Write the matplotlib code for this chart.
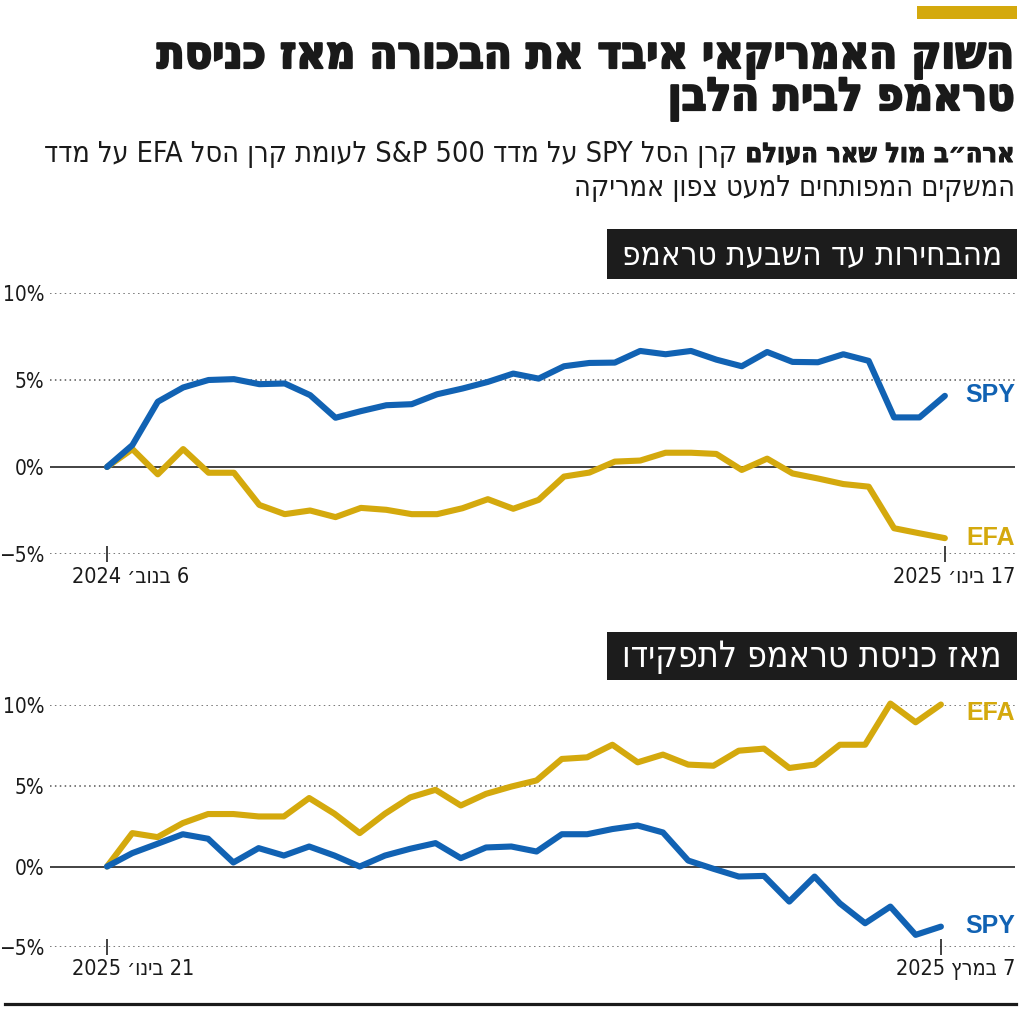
import re
import matplotlib
matplotlib.use('Agg')
import matplotlib.pyplot as plt
import matplotlib.patheffects as pe
from matplotlib.patches import Rectangle
from matplotlib.lines import Line2D

# ---------------- data ----------------
days = list(range(34))
spy_1 = [0, 1.26, 3.75, 4.57, 5.0, 5.05, 4.76, 4.8, 4.13, 2.83, 3.21, 3.55, 3.61, 4.18,
         4.51, 4.89, 5.37, 5.08, 5.79, 5.98, 6.0, 6.67, 6.48, 6.67, 6.17, 5.79, 6.61, 6.04,
         6.02, 6.48, 6.1, 2.85, 2.85, 4.09]
efa_1 = [0, 1.03, -0.42, 1.03, -0.33, -0.33, -2.18, -2.71, -2.5, -2.88, -2.35, -2.46, -2.71,
         -2.71, -2.37, -1.85, -2.4, -1.89, -0.55, -0.32, 0.31, 0.37, 0.82, 0.82, 0.75, -0.17,
         0.48, -0.37, -0.66, -0.98, -1.13, -3.52, -3.81, -4.09]
spy_2 = [0, 0.83, 1.41, 2.0, 1.72, 0.25, 1.14, 0.68, 1.24, 0.68, 0.0, 0.68, 1.1, 1.45, 0.52,
         1.18, 1.24, 0.93, 2.0, 2.0, 2.32, 2.54, 2.11, 0.37, -0.14, -0.62, -0.58, -2.17, -0.62,
         -2.28, -3.51, -2.48, -4.23, -3.72]
efa_2 = [0, 2.07, 1.82, 2.69, 3.25, 3.25, 3.1, 3.1, 4.24, 3.27, 2.07, 3.27, 4.28, 4.75, 3.78,
         4.5, 4.95, 5.33, 6.66, 6.76, 7.54, 6.45, 6.93, 6.31, 6.24, 7.17, 7.3, 6.1, 6.31, 7.54,
         7.54, 10.09, 8.93, 10.03]
y_ticks = [-5, 0, 5, 10]
y_labels = ['−5%', '0%', '5%', '10%']
dates_1 = ['6 בנוב׳ 2024', '17 בינו׳ 2025']
dates_2 = ['21 בינו׳ 2025', '7 במרץ 2025']

title_1 = 'השוק האמריקאי איבד את הבכורה מאז כניסת'
title_2 = 'טראמפ לבית הלבן'
sub_bold = 'ארה״ב מול שאר העולם'
sub_reg = 'קרן הסל SPY על מדד S&P 500 לעומת קרן הסל EFA על מדד'
sub_2 = 'המשקים המפותחים למעט צפון אמריקה'
head_1 = 'מהבחירות עד השבעת טראמפ'
head_2 = 'מאז כניסת טראמפ לתפקידו'

BLUE = '#1162b3'
GOLD = '#d4a90d'
DARK = '#1a1a1a'
FAM = ['DejaVu Sans']


def rtl(s):
    """Visual (left-to-right) order for an RTL line, keeping LTR runs intact."""
    groups = []
    for w in s.split(' '):
        if re.search(r'[A-Za-z0-9]', w):
            if groups and groups[-1][0] == 'L':
                groups[-1][1].append(w)
            else:
                groups.append(['L', [w]])
        else:
            groups.append(['R', [w]])
    parts = []
    for kind, ws in reversed(groups):
        parts.append(' '.join(ws) if kind == 'L' else ws[0][::-1])
    return ' '.join(parts)


W, H = 1024, 1010
fig = plt.figure(figsize=(W / 100, H / 100), dpi=100)
fig.patch.set_facecolor('white')
renderer = fig.canvas.get_renderer()


def fx(px):
    return px / W


def fy(py):
    return 1 - py / H


def fit(t, target):
    for _ in range(4):
        w = t.get_window_extent(renderer).width
        t.set_fontsize(t.get_fontsize() * target / w)


heavy = [pe.withStroke(linewidth=1.6, foreground=DARK)]
semi = [pe.withStroke(linewidth=0.8, foreground=DARK)]

# gold bar
fig.add_artist(Rectangle((fx(917), fy(19)), fx(100), 13 / H, transform=fig.transFigure,
                         facecolor=GOLD, edgecolor='none'))

# title
t1 = fig.text(fx(1015), fy(68), rtl(title_1), ha='right', va='baseline', family=FAM,
              fontweight='heavy', fontstretch='condensed', fontsize=30, color=DARK,
              path_effects=heavy)
fit(t1, 857)
t2 = fig.text(fx(1015), fy(110), rtl(title_2), ha='right', va='baseline', family=FAM,
              fontweight='heavy', fontstretch='condensed', fontsize=t1.get_fontsize(), color=DARK,
              path_effects=heavy)

# subtitle
sb = fig.text(fx(1015), fy(162), rtl(sub_bold), ha='right', va='baseline', family=FAM,
              fontweight='bold', fontstretch='condensed', fontsize=20, color=DARK,
              path_effects=semi)
fit(sb, 268)
bx0 = sb.get_window_extent(renderer).x0
sr = fig.text((bx0 - 8) / W, fy(162), rtl(sub_reg), ha='right', va='baseline', family=FAM,
              fontstretch='condensed', fontsize=18, color=DARK)
fit(sr, bx0 - 8 - 45)
s2 = fig.text(fx(1015), fy(196), rtl(sub_2), ha='right', va='baseline', family=FAM,
              fontstretch='condensed', fontsize=sr.get_fontsize(), color=DARK)


def header(text, top, bottom):
    fig.add_artist(Rectangle((fx(607), fy(bottom)), fx(410), (bottom - top) / H,
                             transform=fig.transFigure, facecolor='#1c1c1c', edgecolor='none'))
    ht = fig.text(fx(812), fy((top + bottom) / 2 + 1), rtl(text), ha='center', va='center',
                  family=FAM, fontstretch='condensed', fontsize=22, color='white')
    fit(ht, 380)


header(head_1, 229, 279)
header(head_2, 632, 680)


def panel(top, bottom, step, spy, efa, dates, spy_lab_y, efa_lab_y, date_y):
    ax = fig.add_axes([fx(50), fy(bottom), fx(965), (bottom - top) / H])
    ax.set_xlim((50 - 107) / step, (1015 - 107) / step)
    ax.set_ylim(-5, 10)
    for v in (10, 5, -5):
        ax.axhline(v, color='#555555', lw=1.1, linestyle=(0, (1, 2.2)), zorder=1)
    ax.axhline(0, color='#222222', lw=1.2, zorder=1)
    ax.plot(days, efa, color=GOLD, lw=4.4, solid_joinstyle='round', solid_capstyle='round',
            clip_on=False, zorder=3)
    ax.plot(days, spy, color=BLUE, lw=4.4, solid_joinstyle='round', solid_capstyle='round',
            clip_on=False, zorder=3)
    for s in ax.spines.values():
        s.set_visible(False)
    ax.set_yticks(y_ticks)
    ax.set_yticklabels(y_labels, family=FAM, fontstretch='condensed', fontsize=15, color=DARK)
    ax.tick_params(axis='y', length=0, pad=4)
    ax.set_xticks([days[0], days[-1]])
    ax.set_xticklabels([])
    ax.tick_params(axis='x', direction='inout', length=12, width=1.2, color='#222222')
    ax.patch.set_alpha(0)
    fig.text(fx(72), fy(date_y), rtl(dates[0]), ha='left', va='center', family=FAM,
             fontstretch='condensed', fontsize=15.5, color=DARK)
    fig.text(fx(1015), fy(date_y), rtl(dates[1]), ha='right', va='center', family=FAM,
             fontstretch='condensed', fontsize=15.5, color=DARK)
    fig.text(fx(1015), fy(spy_lab_y), 'SPY', ha='right', va='center', family='Liberation Sans',
             fontweight='bold', fontsize=18, color=BLUE)
    fig.text(fx(1015), fy(efa_lab_y), 'EFA', ha='right', va='center', family='Liberation Sans',
             fontweight='bold', fontsize=18, color=GOLD)
    return ax


panel(293, 554, 25.39, spy_1, efa_1, dates_1, 395, 538, 577)
panel(705, 947.3, 25.27, spy_2, efa_2, dates_2, 926, 713, 969)

fig.add_artist(Line2D([fx(5), fx(1016)], [fy(1004), fy(1004)], transform=fig.transFigure,
                      color='#1a1a1a', lw=2.3))

fig.savefig('out.png', dpi=100, facecolor='white')
